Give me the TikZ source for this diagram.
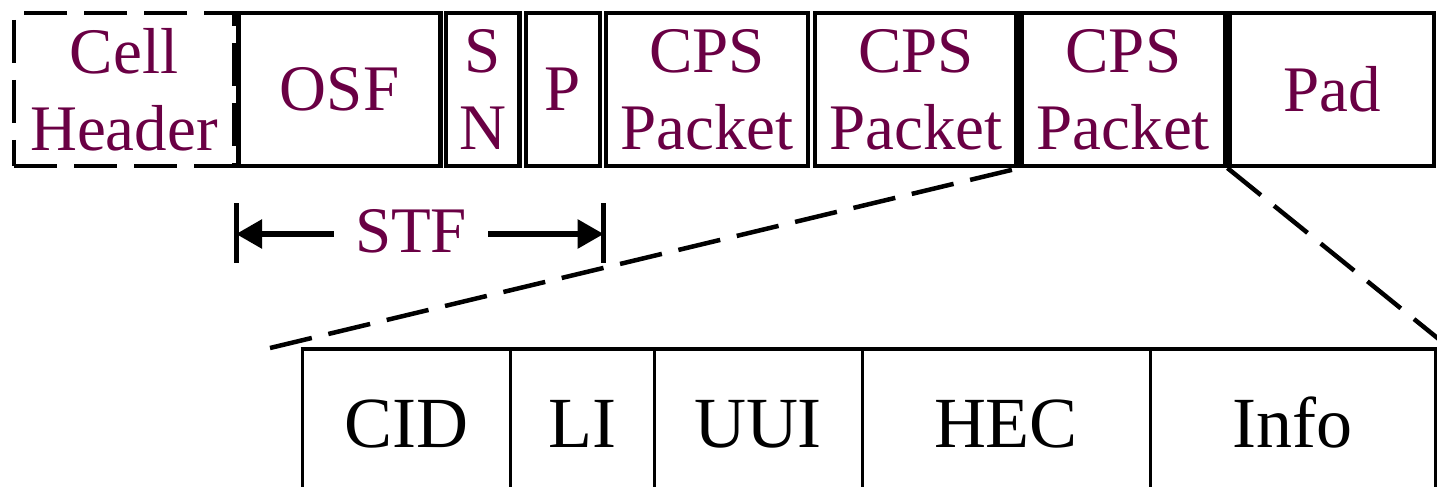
\documentclass[tikz,border=0pt]{standalone}
\usepackage{fontspec}
\setmainfont{Liberation Serif}
\usetikzlibrary{arrows.meta}
\definecolor{hdr}{RGB}{106,0,68}
\tikzset{
  field/.style={draw, line width=4.5pt, inner sep=0pt, align=center,
    minimum height=153pt, text=hdr, font=\fontsize{65}{77}\selectfont},
  hdrbox/.style={field, dash pattern=on 43pt off 17pt},
  zoomline/.style={line width=4.5pt, dash pattern=on 43pt off 17pt},
  stfbar/.style={line width=5pt},
  stfarrow/.style={line width=5.5pt, -{Triangle[length=26pt,width=28pt]}},
  subfield/.style={font=\fontsize{72}{86}\selectfont, anchor=base, inner sep=0pt},
  subline/.style={line width=3pt},
  subtop/.style={line width=4.5pt}
}
\begin{document}
\begin{tikzpicture}[x=1pt,y=-1pt]
\useasboundingbox (0,0) rectangle (1437,487);
\clip (0,0) rectangle (1437,487);

% ATM cell: header and AAL2 payload fields
\node[hdrbox, minimum width=220pt] (cell) at (124,89.3) {Cell\\Header};
\node[field, minimum width=201.8pt] (osf) at (339.6,89.3) {OSF};
\node[field, minimum width=73.5pt] (sn) at (482.75,89.3) {S\\N};
\node[field, minimum width=74pt] (p) at (563,89.3) {P};
\node[field, minimum width=202pt] (cps1) at (707,89.3) {CPS\\Packet};
\node[field, minimum width=201.7pt] (cps2) at (915.85,89.3) {CPS\\Packet};
\node[field, minimum width=203.3pt] (cps3) at (1123.35,89.3) {CPS\\Packet};
\node[field, minimum width=204.3pt] (pad) at (1331.85,89.3) {Pad};

% STF span marker
\coordinate (stfl) at (236,234);
\coordinate (stfr) at (603.7,234);
\draw[stfbar] (236,203) -- (236,263);
\draw[stfbar] (603.7,203) -- (603.7,263);
\node[anchor=base, inner xsep=21pt, inner ysep=0pt, text=hdr,
      font=\fontsize{65}{77}\selectfont] (stf) at (411,252) {STF};
\draw[stfarrow] (stf.west |- stfl) -- (stfl);
\draw[stfarrow] (stf.east |- stfr) -- (stfr);

% CPS packet breakdown
\coordinate (zl) at (270,348);
\coordinate (zr) at (1451,349);
\draw[zoomline] (zl) -- (cps3.south west);
\draw[zoomline] (pad.south west) -- (zr);

\draw[subtop] (300.5,349) -- (1437,349);
\foreach \x in {302.5,510,654,862,1150,1435}
  \draw[subline] (\x,349) -- (\x,495);

\node[subfield] (cid) at (406,447) {CID};
\node[subfield] (li) at (582,447) {LI};
\node[subfield] (uui) at (758,447) {UUI};
\node[subfield] (hec) at (1006,447) {HEC};
\node[subfield] (info) at (1292.5,447) {Info};
\end{tikzpicture}
\end{document}
